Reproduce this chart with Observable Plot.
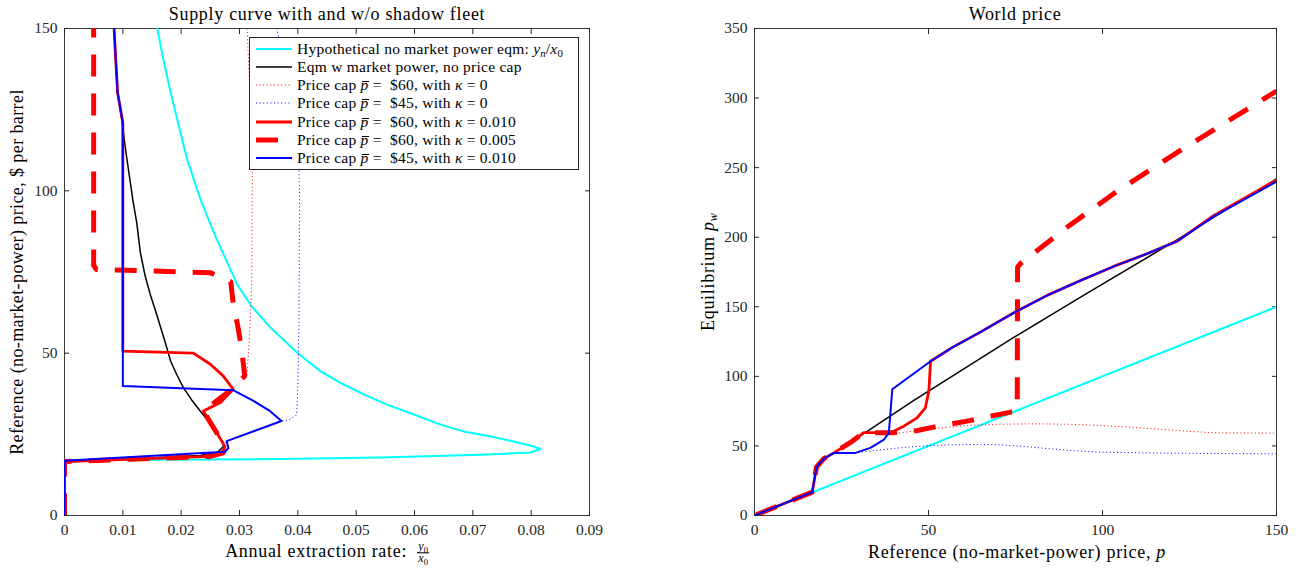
<!DOCTYPE html>
<html>
<head>
<meta charset="utf-8">
<script src="https://cdn.jsdelivr.net/npm/d3@7"></script>
<script src="https://cdn.jsdelivr.net/npm/@observablehq/plot@0.6"></script>
<style>
  body { margin: 0; background: #fff; font-family: "Liberation Serif", "DejaVu Serif", serif; }
  #wrap { position: relative; width: 1299px; height: 568px; font-family: "Liberation Serif", "DejaVu Serif", serif; color: #000; overflow: hidden; }
  .pl { position: absolute; top: 0; }
  .lab { position: absolute; white-space: nowrap; font-family: "Liberation Serif", serif; font-size: 18px; transform: translate(-50%, -50%); letter-spacing: 0.7px; color: #000; }
  .rot { transform: translate(-50%, -50%) rotate(-90deg); }
  .sub { font-size: 0.7em; vertical-align: -0.3em; line-height: 0; letter-spacing: 0; }
  #legend { position: absolute; left: 249px; top: 37px; width: 328px; height: 131px; border: 1px solid #262626; background: #fff; font-family: "Liberation Serif", serif; font-size: 15.5px; letter-spacing: 0.25px; }
  .row { position: absolute; left: 0; height: 18.33px; line-height: 18.33px; white-space: nowrap; }
  .row svg { position: absolute; left: 5px; top: 4px; }
  .row span.t { position: absolute; left: 47px; top: 0; }
  .pb { position: relative; display: inline-block; line-height: 18.33px; }
  .pb::before { content: ""; position: absolute; left: 1px; right: 0px; top: 5px; border-top: 1px solid #000; }
  .frac { display: inline-block; vertical-align: middle; text-align: center; font-size: 12px; line-height: 11px; font-style: italic; margin-left: 5px; letter-spacing: 0; }
  .frac .num { display: block; border-bottom: 0.8px solid #000; padding: 0 1px; }
  .frac .den { display: block; }
</style>
</head>
<body>
<div id="wrap"></div>
<script>
// ---------- tick values ----------
const rateTicks = [0, 0.01, 0.02, 0.03, 0.04, 0.05, 0.06, 0.07, 0.08, 0.09];
const priceTicks = [0, 50, 100, 150];
const refTicks = [0, 50, 100, 150];
const worldTicks = [0, 50, 100, 150, 200, 250, 300, 350];

// ---------- left panel: supply curve (rate y0/x0 vs reference price p) ----------
const supHypPrice = [0, 17.0, 17.4, 17.9, 18.7, 19.4, 20.5, 21.5, 22.8, 24.4, 25.9, 28.0, 31.1, 34.0, 37.3, 40.5, 44.4, 50.0, 57.9, 64.6, 71.2, 77.9, 87.1, 97.4, 109.8, 120.0, 130.3, 140.0, 150];
const supHypRate  = [0, 0, 0.0370, 0.0542, 0.0713, 0.0799, 0.0816, 0.0800, 0.0770, 0.0730, 0.0684, 0.0645, 0.0599, 0.0555, 0.0513, 0.0477, 0.0439, 0.0400, 0.0353, 0.0320, 0.0296, 0.0279, 0.0256, 0.0233, 0.0210, 0.0196, 0.0182, 0.0170, 0.0159];

const supMktPrice = [0, 16.5, 18.5, 19.5, 21.3, 22.8, 24.8, 26.9, 29.5, 32.1, 35.6, 39.3, 43.2, 47.5, 52.5, 57.8, 62.5, 68.1, 74.0, 81.0, 90.0, 97.4, 109.8, 115.0, 121.0, 130.3, 140.0, 150];
const supMktRate  = [0, 0, 0.0233, 0.0262, 0.0273, 0.0270, 0.0264, 0.0256, 0.0245, 0.0233, 0.0218, 0.0204, 0.0193, 0.0182, 0.0174, 0.0165, 0.0157, 0.0147, 0.0138, 0.0130, 0.0124, 0.0117, 0.0107, 0.0103, 0.0099, 0.0091, 0.0088, 0.0085];

const supCap60k0Price = [0, 16.5, 18.5, 19.5, 21.3, 22.8, 26.9, 32.2, 39.3, 43.4, 55, 72, 105, 130, 150];
const supCap60k0Rate  = [0, 0, 0.0233, 0.0262, 0.0273, 0.0270, 0.0256, 0.0238, 0.0290, 0.0313, 0.0317, 0.0321, 0.0322, 0.0318, 0.0313];

const supCap45k0Price = [0, 16.5, 18.5, 19.5, 21.3, 22.9, 29.1, 29.5, 31, 40, 60, 100, 110, 130, 150];
const supCap45k0Rate  = [0, 0, 0.0233, 0.0262, 0.0273, 0.0278, 0.0372, 0.0385, 0.0398, 0.0400, 0.0402, 0.0403, 0.0401, 0.0386, 0.0364];

const supCap60k10Price = [0, 16.6, 18.2, 19.3, 21.3, 22.8, 26.9, 32.2, 34.7, 38.9, 43.0, 46.6, 50.0, 50.6, 121.0, 130.3, 140.0, 150];
const supCap60k10Rate  = [0, 0, 0.0250, 0.0272, 0.0275, 0.0270, 0.0256, 0.0238, 0.0267, 0.0289, 0.0272, 0.0250, 0.0221, 0.0100, 0.0100, 0.0091, 0.0088, 0.0085];

const supCap60k05Price = [0, 16.6, 18.2, 19.3, 21.3, 22.8, 26.9, 32.2, 39.3, 43.0, 50.7, 57.4, 65.7, 72.0, 74.8, 75.8, 77.0, 150];
const supCap60k05Rate  = [0, 0, 0.0250, 0.0272, 0.0275, 0.0270, 0.0256, 0.0238, 0.0290, 0.0309, 0.0304, 0.0298, 0.0289, 0.0285, 0.0250, 0.0055, 0.0050, 0.0050];

const supCap45k10Price = [0, 16.9, 19.6, 20.8, 22.9, 29.1, 32.2, 35.3, 38.6, 39.9, 121.0, 130.3, 140.0, 150];
const supCap45k10Rate  = [0, 0, 0.0275, 0.0281, 0.0278, 0.0372, 0.0352, 0.0324, 0.0289, 0.0100, 0.0100, 0.0091, 0.0088, 0.0085];

// ---------- right panel: world price (reference p vs equilibrium pw) ----------
const wpHypRef = [0.5, 150];
const wpHypPw  = [0.5, 150];

const wpMktRef = [0.5, 16.6, 17.8, 19.9, 22.8, 27.6, 31.4, 45.8, 74.5, 93.7, 121.5, 150];
const wpMktPw  = [0.5, 16.8, 34.7, 40.8, 45.0, 52.5, 58.8, 82.7, 128.0, 157.0, 198.2, 242.0];

const wpCap60k0Ref = [0.5, 16.6, 17.8, 19.9, 22.8, 27.6, 31.4, 42.0, 51.0, 61.1, 70.0, 80.3, 90.0, 99.4, 109.0, 118.6, 126.0, 133, 150];
const wpCap60k0Pw  = [0.5, 16.8, 34.7, 40.8, 45.0, 52.5, 59.5, 59.4, 62.3, 64.7, 65.6, 65.9, 65.6, 64.7, 63.3, 61.6, 60.3, 59.4, 59.2];

const wpCap45k0Ref = [0.5, 16.6, 17.8, 19.9, 22.8, 29.0, 34.3, 42.0, 49.0, 56.3, 63.5, 70.7, 78.0, 85.1, 92.0, 99.4, 118.6, 150];
const wpCap45k0Pw  = [0.5, 16.8, 34.7, 40.8, 45.0, 45.0, 46.7, 48.7, 50.0, 50.8, 51.0, 50.8, 49.5, 47.9, 46.5, 45.5, 44.8, 44.3];

const wpCap60k10Ref = [0.5, 16.6, 17.8, 19.9, 22.8, 27.6, 31.4, 39.1, 42.9, 46.7, 49.1, 50.1, 50.6, 57.0, 64.9, 74.5, 84.1, 93.7, 103.2, 112.8, 121.5, 132, 150];
const wpCap60k10Pw  = [0.5, 16.8, 34.7, 40.8, 45.0, 52.5, 59.5, 59.5, 64.2, 70.2, 77.4, 89.5, 110.9, 121.0, 131.8, 145.7, 158.2, 168.9, 179.0, 188.1, 197.2, 215.7, 241.0];

const wpCap60k05Ref = [0.5, 16.6, 17.8, 19.9, 22.8, 27.6, 31.4, 39.1, 42.0, 46.8, 51.5, 61.1, 73.6, 75.5, 75.6, 76.4, 89.9, 103.2, 122.4, 150];
const wpCap60k05Pw  = [0.5, 16.8, 34.7, 40.8, 45.0, 52.5, 59.5, 59.5, 59.6, 61.1, 63.5, 67.8, 74.3, 75.0, 178.5, 181.0, 207.3, 231.3, 262.4, 305.0];

const wpCap45k10Ref = [0.5, 16.6, 17.8, 19.9, 22.8, 29.0, 33.3, 37.2, 38.6, 39.6, 50.6, 57.0, 64.9, 74.5, 84.1, 93.7, 103.2, 112.8, 121.5, 132, 150];
const wpCap45k10Pw  = [0.5, 16.8, 34.7, 40.8, 45.0, 45.0, 48.6, 54.6, 59.4, 90.7, 110.9, 121.0, 131.8, 145.7, 158.2, 168.9, 179.0, 188.1, 197.2, 215.0, 240.0];

// ---------- styles ----------
const CYAN = "#00FFFF", RED = "#FF0000", BLUE = "#0000FF", BLACK = "#000000", AX = "#262626";
const sHyp = {stroke: CYAN, strokeWidth: 2};
const sMkt = {stroke: BLACK, strokeWidth: 1.5};
const sDotR = {stroke: RED, strokeWidth: 1, strokeDasharray: "1,2.6", strokeLinecap: "butt"};
const sDotB = {stroke: BLUE, strokeWidth: 1, strokeDasharray: "1,2.6", strokeLinecap: "butt"};
const sRed = {stroke: RED, strokeWidth: 2.8};
const sDash = {stroke: RED, strokeWidth: 5, strokeDasharray: "22,17", strokeLinecap: "butt"};
const sBlue = {stroke: BLUE, strokeWidth: 2};

function series(xs, ys, st) {
  return Plot.line(xs.map((_, i) => i), {x: i => xs[i], y: i => ys[i], curve: "linear", strokeLinejoin: "round", clip: true, ...st});
}
function boxAxes(xt, yt, xf, yf) {
  return [
    Plot.axisX(xt, {anchor: "bottom", tickSize: -5, tickPadding: 13, tickFormat: xf, label: null, stroke: AX, fill: AX}),
    Plot.axisX(xt, {anchor: "top", tickSize: -5, tickFormat: () => "", label: null, stroke: AX}),
    Plot.axisY(yt, {anchor: "left", tickSize: -5, tickPadding: 12, tickFormat: yf, label: null, stroke: AX, fill: AX}),
    Plot.axisY(yt, {anchor: "right", tickSize: -5, tickFormat: () => "", label: null, stroke: AX})
  ];
}
const plotStyle = {fontFamily: "'Liberation Serif', serif", fontSize: "15.5px", background: "white", color: AX, overflow: "visible"};

const left = Plot.plot({
  width: 650, height: 568, marginLeft: 64, marginRight: 61, marginTop: 28, marginBottom: 53,
  style: plotStyle,
  x: {domain: [0, 0.09]}, y: {domain: [0, 150]},
  marks: [
    Plot.frame({stroke: AX, strokeWidth: 0.9}),
    ...boxAxes(rateTicks, priceTicks, d => d === 0 ? "0" : d.toFixed(2), d => String(d)),
    series(supHypRate, supHypPrice, sHyp),
    series(supMktRate, supMktPrice, sMkt),
    series(supCap60k0Rate, supCap60k0Price, sDotR),
    series(supCap45k0Rate, supCap45k0Price, sDotB),
    series(supCap60k10Rate, supCap60k10Price, sRed),
    series(supCap60k05Rate, supCap60k05Price, sDash),
    series(supCap45k10Rate, supCap45k10Price, sBlue)
  ]
});

const right = Plot.plot({
  width: 649, height: 568, marginLeft: 104, marginRight: 23, marginTop: 28, marginBottom: 53,
  style: plotStyle,
  x: {domain: [0, 150]}, y: {domain: [0, 350]},
  marks: [
    Plot.frame({stroke: AX, strokeWidth: 0.9}),
    ...boxAxes(refTicks, worldTicks, d => String(d), d => String(d)),
    series(wpHypRef, wpHypPw, sHyp),
    series(wpMktRef, wpMktPw, sMkt),
    series(wpCap60k0Ref, wpCap60k0Pw, sDotR),
    series(wpCap45k0Ref, wpCap45k0Pw, sDotB),
    series(wpCap60k10Ref, wpCap60k10Pw, sRed),
    series(wpCap60k05Ref, wpCap60k05Pw, sDash),
    series(wpCap45k10Ref, wpCap45k10Pw, sBlue)
  ]
});

const wrap = document.getElementById("wrap");
left.classList.add("pl"); left.style.left = "0px";
right.classList.add("pl"); right.style.left = "650px";
wrap.appendChild(left);
wrap.appendChild(right);

function addLab(html, x, y, cls, extra) {
  const d = document.createElement("div");
  d.className = "lab" + (cls ? " " + cls : "");
  d.style.left = x + "px"; d.style.top = y + "px";
  if (extra) Object.assign(d.style, extra);
  d.innerHTML = html;
  wrap.appendChild(d);
}
addLab("Supply curve with and w/o shadow fleet", 327, 14);
addLab("World price", 1015, 14);
addLab('Annual extraction rate: <span class="frac"><span class="num">y<span class="sub" style="font-style:normal">0</span></span><span class="den">x<span class="sub" style="font-style:normal">0</span></span></span>', 327, 553);
addLab("Reference (no-market-power) price, <i>p</i>", 1017, 552);
addLab("Reference (no-market-power) price, $ per barrel", 17, 272, "rot", {letterSpacing: "0.4px"});
addLab('Equilibrium <i>p<span class="sub">w</span></i>', 708, 272, "rot");

// ---------- legend ----------
const pbar = '<span class="pb"><i>p</i></span>';
const legendItems = [
  {label: 'Hypothetical no market power eqm: <i>y<span class="sub">n</span></i>/<i>x</i><span class="sub">0</span>', st: sHyp, swatch: 36},
  {label: "Eqm w market power, no price cap", st: sMkt, swatch: 36},
  {label: `Price cap ${pbar} = &nbsp;$60, with <i>κ</i> = 0`, st: sDotR, swatch: 36},
  {label: `Price cap ${pbar} = &nbsp;$45, with <i>κ</i> = 0`, st: sDotB, swatch: 36},
  {label: `Price cap ${pbar} = &nbsp;$60, with <i>κ</i> = 0.010`, st: sRed, swatch: 36},
  {label: `Price cap ${pbar} = &nbsp;$60, with <i>κ</i> = 0.005`, st: sDash, swatch: 36},
  {label: `Price cap ${pbar} = &nbsp;$45, with <i>κ</i> = 0.010`, st: sBlue, swatch: 36}
];
const lg = document.createElement("div");
lg.id = "legend";
legendItems.forEach((it, i) => {
  const r = document.createElement("div");
  r.className = "row";
  r.style.top = (1.5 + i * 18.33) + "px";
  const dash = it.st.strokeDasharray ? `stroke-dasharray="${it.st.strokeDasharray}"` : "";
  r.innerHTML = `<svg width="44" height="10"><line x1="1" x2="${1 + it.swatch}" y1="5" y2="5" stroke="${it.st.stroke}" stroke-width="${it.st.strokeWidth}" ${dash}/></svg><span class="t">${it.label}</span>`;
  lg.appendChild(r);
});
wrap.appendChild(lg);
</script>
</body>
</html>
